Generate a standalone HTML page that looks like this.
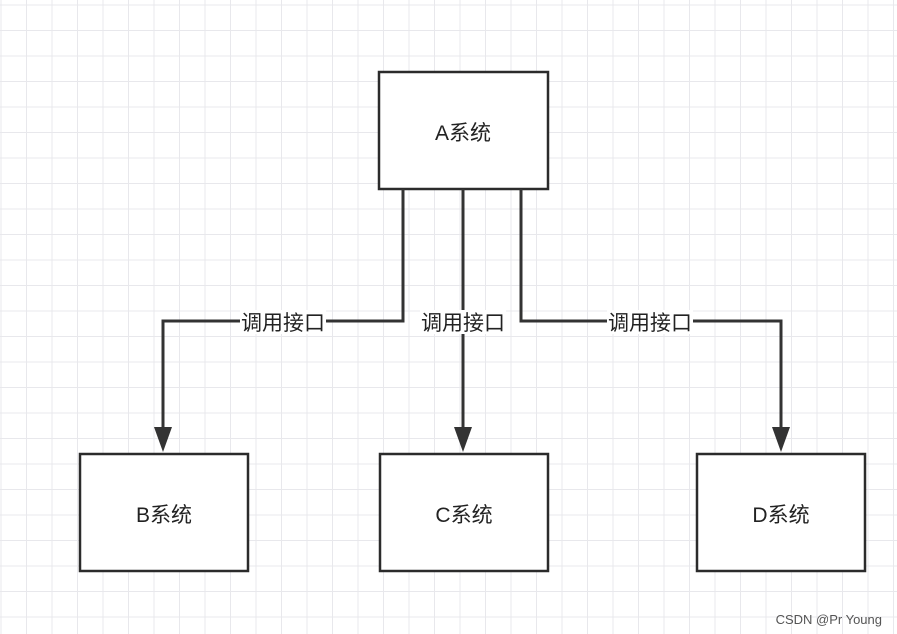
<!DOCTYPE html>
<html><head><meta charset="utf-8"><style>
html,body{margin:0;padding:0;}
body{width:897px;height:634px;overflow:hidden;background:#fff;position:relative;
background-image:linear-gradient(to right,#e8e8ec 1px,transparent 1px),linear-gradient(to bottom,#e8e8ec 1px,transparent 1px);
background-size:25.5px 25.5px;background-position:0.5px 4.5px;}
svg{position:absolute;left:0;top:0;}
text{font-family:"Liberation Sans","Noto Sans CJK SC",sans-serif;}
</style></head><body>
<svg width="897" height="634" viewBox="0 0 897 634">
<g fill="#fff" stroke="#2b2b2b" stroke-width="2.5">
<rect x="379" y="72" width="169" height="117"/>
<rect x="80" y="454" width="168" height="117"/>
<rect x="380" y="454" width="168" height="117"/>
<rect x="697" y="454" width="168" height="117"/>
</g>
<g fill="none" stroke="#333" stroke-width="3">
<polyline points="403,189 403,321 163,321 163,430"/>
<polyline points="463,189 463,430"/>
<polyline points="521,189 521,321 781,321 781,430"/>
</g>
<g fill="#333">
<polygon points="154,427 172,427 163,452"/>
<polygon points="454,427 472,427 463,452"/>
<polygon points="772,427 790,427 781,452"/>
</g>
<g fill="#fff">
<rect x="240" y="310" width="86" height="24"/>
<rect x="420" y="310" width="86" height="24"/>
<rect x="607" y="310" width="86" height="24"/>
</g>
<g font-size="21" fill="#222" text-anchor="middle">
<text x="283" y="330">调用接口</text>
<text x="463" y="330">调用接口</text>
<text x="650" y="330">调用接口</text>
<text x="463" y="140">A系统</text>
<text x="164" y="522">B系统</text>
<text x="464" y="522">C系统</text>
<text x="781" y="522">D系统</text>
</g>
<text x="882" y="624" font-size="13" fill="#555" text-anchor="end">CSDN @Pr Young</text>
</svg>
</body></html>
